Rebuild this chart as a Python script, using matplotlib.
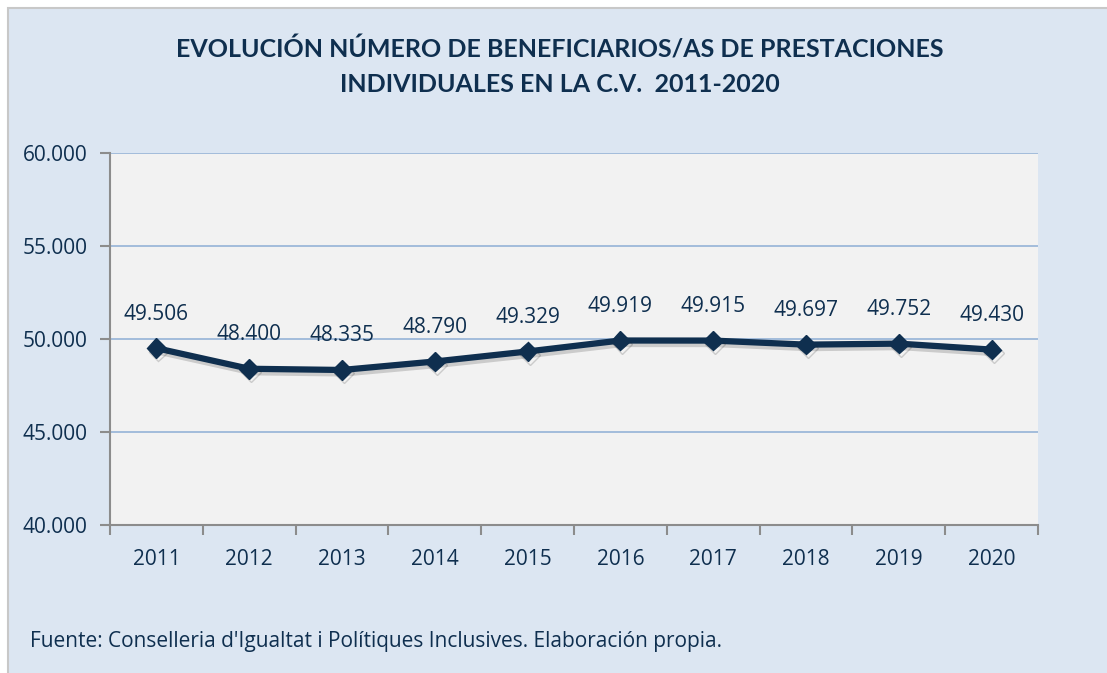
import matplotlib.pyplot as plt
import matplotlib.patheffects as pe
from matplotlib.patches import Rectangle

years = ['2011', '2012', '2013', '2014', '2015', '2016', '2017', '2018', '2019', '2020']
beneficiarios = [49506, 48400, 48335, 48790, 49329, 49919, 49915, 49697, 49752, 49430]
y_ticks = [40000, 45000, 50000, 55000, 60000]

navy = '#0f2f4f'
panel = '#dce6f2'

plt.rcParams['font.family'] = ['Open Sans', 'DejaVu Sans']

fig = plt.figure(figsize=(11.07, 6.73), dpi=100)
fig.patch.set_facecolor('white')
fig.patches.append(Rectangle((8 / 1107, -0.01), 1.02, 1 - 8 / 673 + 0.01, transform=fig.transFigure,
                             facecolor=panel, edgecolor='#c8c8c8', linewidth=1.5, zorder=-5))

ax = fig.add_axes([110 / 1107, 1 - 525 / 673, 928 / 1107, 372 / 673])
ax.set_facecolor('#f2f2f2')

x = list(range(len(years)))
ax.plot(x, beneficiarios, color=navy, linewidth=4.5, marker='D', markersize=10,
        path_effects=[pe.SimpleLineShadow(offset=(1.5, -2.5), shadow_color='#1a1a1a', alpha=0.18),
                      pe.Normal()], zorder=3)

for xi, v in zip(x, beneficiarios):
    label = f'{v:,}'.replace(',', '.')
    ax.annotate(label, (xi, v), xytext=(0, 17), textcoords='offset points',
                ha='center', va='bottom', fontsize=15, color=navy)

ax.set_xlim(-0.5, len(years) - 0.5)
ax.set_ylim(40000, 60000)
ax.set_yticks(y_ticks)
ax.set_yticklabels([f'{t:,}'.replace(',', '.') for t in y_ticks])
ax.set_xticks([i - 0.5 for i in range(len(years) + 1)], minor=False)
ax.set_xticklabels([])
ax.set_xticks(x, minor=True)
ax.set_xticklabels(years, minor=True)
ax.tick_params(axis='x', which='major', length=7, color='#8c8c8c', width=1.5)
ax.tick_params(axis='x', which='minor', length=0, labelsize=15, labelcolor=navy, pad=17)
ax.tick_params(axis='y', length=7, color='#8c8c8c', width=1.5, labelsize=15, labelcolor=navy, pad=9)
ax.grid(axis='y', color='#95b3d7', linewidth=1.2)
ax.set_axisbelow(True)
for s in ['top', 'right']:
    ax.spines[s].set_visible(False)
for s in ['left', 'bottom']:
    ax.spines[s].set_color('#8c8c8c')
    ax.spines[s].set_linewidth(1.5)

fig.text(560 / 1107, 1 - 50 / 673, 'EVOLUCIÓN NÚMERO DE BENEFICIARIOS/AS DE PRESTACIONES',
         ha='center', va='center', fontsize=18, fontweight='bold', color=navy, family=['Lato', 'DejaVu Sans'])
fig.text(560 / 1107, 1 - 85 / 673, 'INDIVIDUALES EN LA C.V.  2011-2020',
         ha='center', va='center', fontsize=18, fontweight='bold', color=navy, family=['Lato', 'DejaVu Sans'])
fig.text(30 / 1107, 1 - 642 / 673, "Fuente: Conselleria d'Igualtat i Polítiques Inclusives. Elaboración propia.",
         ha='left', va='center', fontsize=15, color=navy)

fig.savefig('out.png', dpi=100)
